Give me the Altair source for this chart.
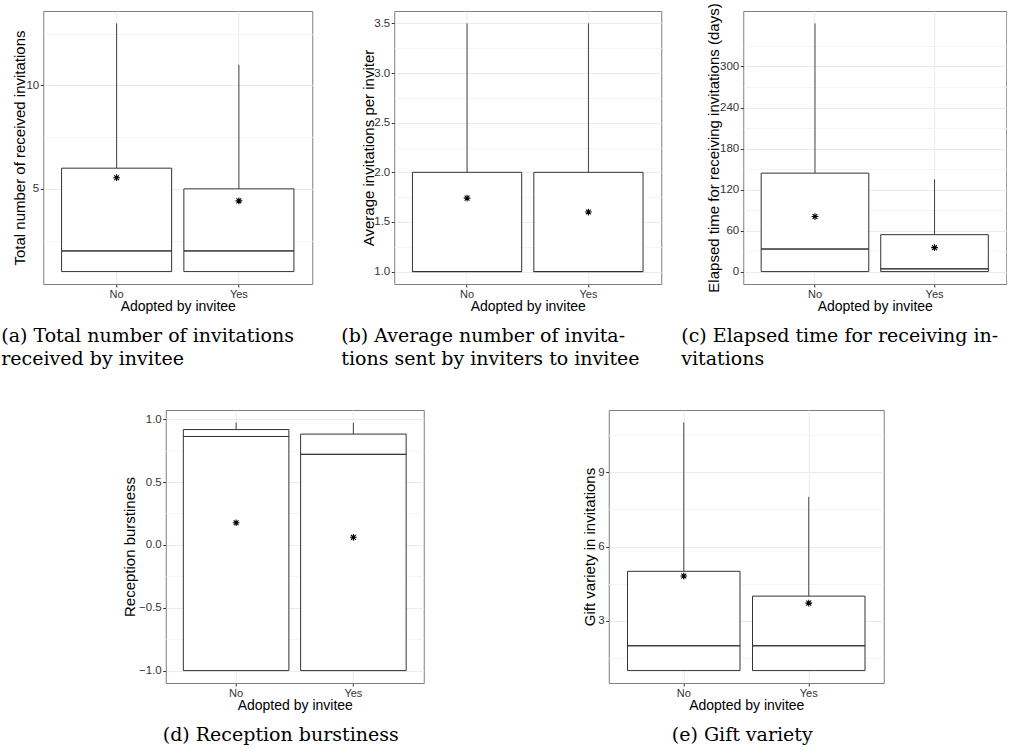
import altair as alt
import pandas as pd

groups = ["No", "Yes"]
x_title = "Adopted by invitee"

# (a) Total number of received invitations
a_lo = [1, 1]
a_q1 = [1, 1]
a_med = [2, 2]
a_q3 = [6, 5]
a_hi = [13, 11]
a_mean = [5.54, 4.42]
a_major = [5, 10]
a_minor = [2.5, 7.5, 12.5]

# (b) Average invitations per inviter
b_lo = [1, 1]
b_q1 = [1, 1]
b_med = [1, 1]
b_q3 = [2, 2]
b_hi = [3.5, 3.5]
b_mean = [1.74, 1.60]
b_major = [1.0, 1.5, 2.0, 2.5, 3.0, 3.5]
b_minor = [1.25, 1.75, 2.25, 2.75, 3.25]

# (c) Elapsed time for receiving invitations (days)
c_lo = [0, 0]
c_q1 = [0, 0]
c_med = [33, 4]
c_q3 = [144, 54]
c_hi = [363, 135]
c_mean = [80.5, 35]
c_major = [0, 60, 120, 180, 240, 300]
c_minor = [30, 90, 150, 210, 270, 330]

# (d) Reception burstiness
d_lo = [-1, -1]
d_q1 = [-1, -1]
d_med = [0.862, 0.72]
d_q3 = [0.917, 0.881]
d_hi = [0.974, 0.97]
d_mean = [0.176, 0.06]
d_major = [-1.0, -0.5, 0.0, 0.5, 1.0]
d_minor = [-0.75, -0.25, 0.25, 0.75]

# (e) Gift variety in invitations
e_lo = [1, 1]
e_q1 = [1, 1]
e_med = [2, 2]
e_q3 = [5, 4]
e_hi = [11, 8]
e_mean = [4.81, 3.72]
e_major = [3, 6, 9]
e_minor = [1.5, 4.5, 7.5, 10.5]

SANS = "Liberation Sans"
SERIF = "DejaVu Serif"
ASTERISK = "M-1,0L1,0M0,-1L0,1M-0.72,-0.72L0.72,0.72M-0.72,0.72L0.72,-0.72"


def expand(lo, hi):
    r = hi - lo
    return [lo - 0.05 * r, hi + 0.05 * r]


def panel(lo, q1, med, q3, hi, mean, ytitle, major, minor, fmt, width, height,
          title_x, caption, cap_dx, cap_anchor):
    df = pd.DataFrame({"grp": groups, "lo": lo, "q1": q1, "med": med,
                       "q3": q3, "hi": hi, "mean": mean})
    yscale = alt.Scale(domain=expand(min(lo), max(hi)), zero=False, nice=False)
    xscale = alt.Scale(paddingInner=0.1, paddingOuter=0.15)
    xaxis = alt.Axis(grid=True, gridColor="#ebebeb", bandPosition=0.5,
                     labelAngle=0, domain=False, tickSize=3,
                     tickColor="#333333", labelPadding=1,
                     labelFontSize=11, titleFontSize=14,
                     titleY=15, titleBaseline="top")
    xenc = alt.X("grp:N", scale=xscale, sort=groups, title=x_title, axis=xaxis)
    base = alt.Chart(df)

    minor_layer = base.mark_rule(opacity=0).encode(
        x=xenc,
        y=alt.Y("q1:Q", scale=yscale,
                axis=alt.Axis(values=minor, grid=True, gridColor="#f4f4f4",
                              gridWidth=1, labels=False, ticks=False,
                              domain=False, title=None, orient="right")))

    whisk_hi = base.mark_rule(color="#444444", strokeWidth=1).encode(
        x=xenc, y=alt.Y("q3:Q", scale=yscale, axis=None), y2="hi:Q")
    whisk_lo = base.mark_rule(color="#444444", strokeWidth=1).encode(
        x=xenc, y=alt.Y("lo:Q", scale=yscale, axis=None), y2="q1:Q")

    box = base.mark_bar(fill="white", stroke="#333333", strokeWidth=1).encode(
        x=xenc,
        y=alt.Y("q1:Q", scale=yscale, title=ytitle,
                axis=alt.Axis(values=major, format=fmt, grid=True,
                              gridColor="#ebebeb", domain=False, tickSize=3,
                              tickColor="#333333", labelPadding=1.5,
                              labelFontSize=11.5, labelFlush=False,
                              titleFontSize=15, titleX=title_x,
                              titleBaseline="alphabetic")),
        y2="q3:Q")

    median = base.mark_bar(fill="white", stroke="#333333", strokeWidth=1).encode(
        x=xenc, y=alt.Y("med:Q", scale=yscale, axis=None), y2="med:Q")

    mean_pt = base.mark_point(shape=ASTERISK, filled=False, color="black",
                              strokeWidth=1.1, size=45, opacity=1).encode(
        x=xenc, y=alt.Y("mean:Q", scale=yscale, axis=None))

    return alt.layer(minor_layer, whisk_hi, whisk_lo, box, median, mean_pt).resolve_axis(
        y="independent"
    ).properties(
        width=width, height=height,
        title=alt.TitleParams(text=caption, orient="bottom", anchor=cap_anchor,
                              frame="group", dx=cap_dx, offset=14, font=SERIF,
                              fontSize=19, fontWeight="normal", lineHeight=23,
                              color="black", baseline="top"))


pa = panel(a_lo, a_q1, a_med, a_q3, a_hi, a_mean,
           "Total number of received invitations", a_major, a_minor, "d",
           269, 273, -19, ["(a) Total number of invitations", "received by invitee"],
           -42, "start")
pb = panel(b_lo, b_q1, b_med, b_q3, b_hi, b_mean,
           "Average invitations per inviter", b_major, b_minor, ".1f",
           267, 273, -21, ["(b) Average number of invita-", "tions sent by inviters to invitee"],
           -53, "start")
pc = panel(c_lo, c_q1, c_med, c_q3, c_hi, c_mean,
           "Elapsed time for receiving invitations (days)", c_major, c_minor, "d",
           263, 273, -25, ["(c) Elapsed time for receiving in-", "vitations"],
           -62, "start")
pd_ = panel(d_lo, d_q1, d_med, d_q3, d_hi, d_mean,
            "Reception burstiness", d_major, d_minor, ".1f",
            258, 273, -31, "(d) Reception burstiness", -14, "middle")
pe = panel(e_lo, e_q1, e_med, e_q3, e_hi, e_mean,
           "Gift variety in invitations", e_major, e_minor, "d",
           275, 273, -14, "(e) Gift variety", -4, "middle")

top = alt.hconcat(pa, pb, pc, spacing=82, bounds="flush")
bottom = alt.hconcat(pd_, pe, spacing=185, bounds="flush")

chart = alt.vconcat(top, bottom, spacing=39, center=True).properties(
    padding={"left": 0, "top": 2, "right": 0, "bottom": 0},
    background="white",
).configure_view(
    stroke="#7f7f7f", strokeWidth=1
).configure_axis(
    labelFont=SANS, titleFont=SANS, labelColor="#333333", titleColor="black",
    titleFontWeight="normal"
)

chart.save("out.html", embed_options={"renderer": "svg", "actions": False})
